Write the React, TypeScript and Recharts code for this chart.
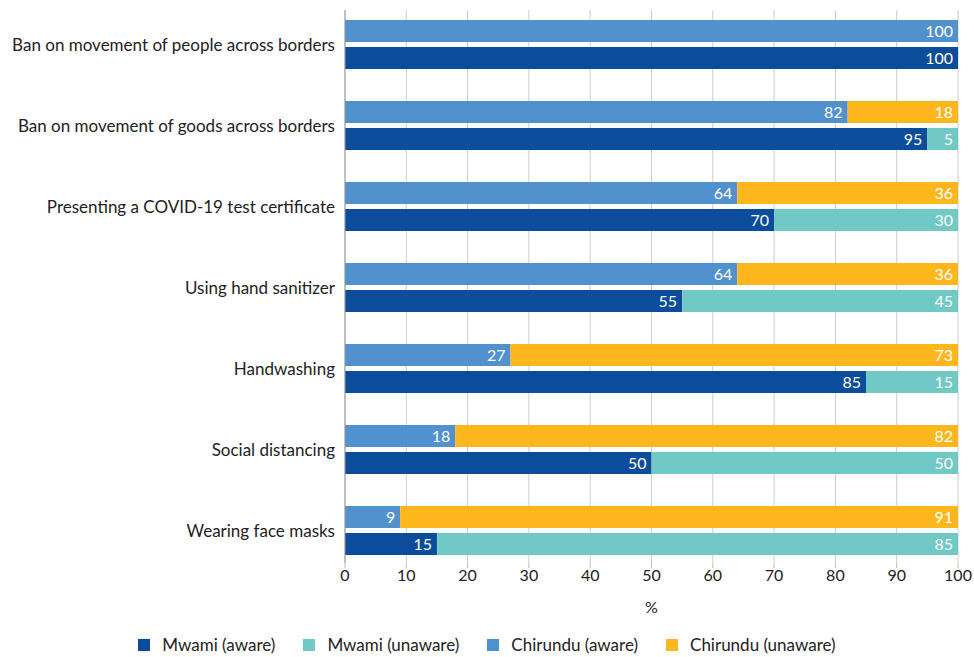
import { BarChart, Bar, XAxis, YAxis, CartesianGrid, LabelList } from "recharts";

const categories = [
  "Ban on movement of people across borders",
  "Ban on movement of goods across borders",
  "Presenting a COVID-19 test certificate",
  "Using hand sanitizer",
  "Handwashing",
  "Social distancing",
  "Wearing face masks",
];

const chirunduAware = [100, 82, 64, 64, 27, 18, 9];
const chirunduUnaware = [0, 18, 36, 36, 73, 82, 91];
const mwamiAware = [100, 95, 70, 55, 85, 50, 15];
const mwamiUnaware = [0, 5, 30, 45, 15, 50, 85];

const xTicks = [0, 10, 20, 30, 40, 50, 60, 70, 80, 90, 100];

const legendItems = [
  { name: "Mwami (aware)", color: "#0b4c9b" },
  { name: "Mwami (unaware)", color: "#70c9c4" },
  { name: "Chirundu (aware)", color: "#5191ce" },
  { name: "Chirundu (unaware)", color: "#fdb71c" },
];

const data = categories.map((name, i) => ({
  name,
  chirunduAware: chirunduAware[i],
  chirunduUnaware: chirunduUnaware[i],
  mwamiAware: mwamiAware[i],
  mwamiUnaware: mwamiUnaware[i],
}));

const font = "Lato, 'Open Sans', sans-serif";
const hideZero = (v: any) => (v ? v : "");

export default function App() {
  return (
    <div
      style={{
        position: "relative",
        width: 974,
        height: 657,
        fontFamily: font,
        color: "#222",
        background: "#fff",
      }}
    >
      <style>{`body{margin:0} svg{overflow:visible}`}</style>
      <BarChart
        width={974}
        height={657}
        data={data}
        layout="vertical"
        margin={{ top: 10, right: 16, bottom: 44, left: 0 }}
        barSize={22}
        barGap={5}
        style={{ fontFamily: font }}
      >
        <CartesianGrid horizontal={false} stroke="#cccccc" />
        <XAxis
          type="number"
          domain={[0, 100]}
          ticks={xTicks}
          axisLine={false}
          tickLine={{ stroke: "#bbbbbb" }}
          tickSize={5}
          tick={{ fontSize: 16, fill: "#222" }}
          height={50}
          label={{ value: "%", position: "insideBottom", offset: 0, fontSize: 16, fill: "#222" }}
        />
        <YAxis
          type="category"
          dataKey="name"
          width={345}
          axisLine={{ stroke: "#999999" }}
          tickLine={false}
          tickMargin={4}
          tick={{ fontSize: 17, fill: "#222" }}
          padding={{ top: -6, bottom: -8 }}
          interval={0}
        />
        <Bar dataKey="chirunduAware" stackId="c" fill="#5191ce" isAnimationActive={false}>
          <LabelList dataKey="chirunduAware" position="insideRight" formatter={hideZero} fill="#fff" fontSize={16} />
        </Bar>
        <Bar dataKey="chirunduUnaware" stackId="c" fill="#fdb71c" isAnimationActive={false}>
          <LabelList dataKey="chirunduUnaware" position="insideRight" formatter={hideZero} fill="#fff" fontSize={16} />
        </Bar>
        <Bar dataKey="mwamiAware" stackId="m" fill="#0b4c9b" isAnimationActive={false}>
          <LabelList dataKey="mwamiAware" position="insideRight" formatter={hideZero} fill="#fff" fontSize={16} />
        </Bar>
        <Bar dataKey="mwamiUnaware" stackId="m" fill="#70c9c4" isAnimationActive={false}>
          <LabelList dataKey="mwamiUnaware" position="insideRight" formatter={hideZero} fill="#fff" fontSize={16} />
        </Bar>
      </BarChart>
      <div
        style={{
          position: "absolute",
          top: 634,
          left: 0,
          width: 974,
          display: "flex",
          justifyContent: "center",
          gap: 28,
          fontSize: 17,
        }}
      >
        {legendItems.map((item) => (
          <div key={item.name} style={{ display: "flex", alignItems: "center", gap: 12 }}>
            <div style={{ width: 12, height: 12, background: item.color }} />
            <span>{item.name}</span>
          </div>
        ))}
      </div>
    </div>
  );
}
